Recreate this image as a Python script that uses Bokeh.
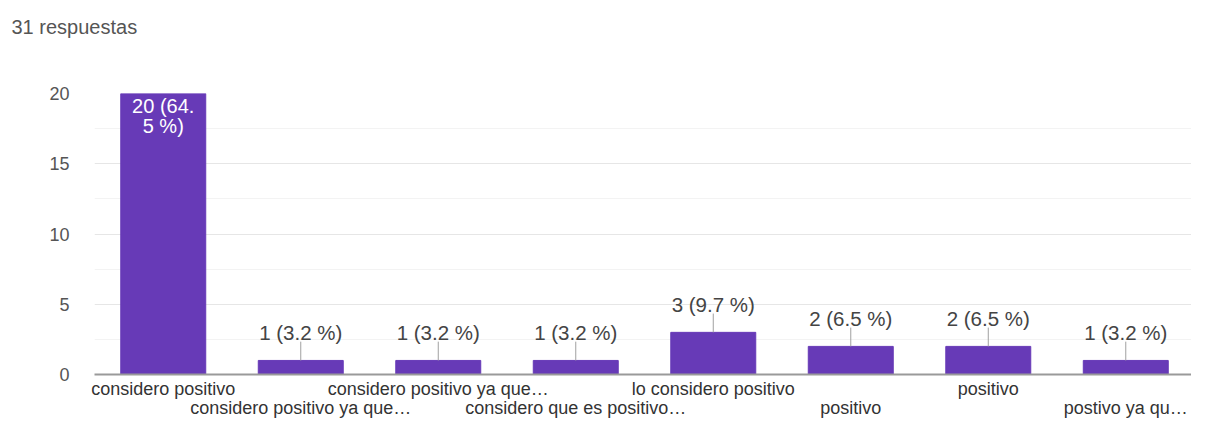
import numpy as np
from bokeh.plotting import figure
from bokeh.models import FixedTicker, ColumnDataSource, Title
from bokeh.core.properties import value
from bokeh.embed import file_html
from bokeh.resources import INLINE

# ---- data ----
categories = [
    "considero positivo",
    "considero positivo ya que…",
    "considero positivo ya que…",
    "considero que es positivo…",
    "lo considero positivo",
    "positivo",
    "positivo",
    "postivo ya qu…",
]
counts = [20, 1, 1, 1, 3, 2, 2, 1]
total_responses = 31
y_ticks = [0, 5, 10, 15, 20]
y_minor = [2.5, 7.5, 12.5, 17.5]
title_text = f"{total_responses} respuestas"

FONT = "Liberation Sans"
BAR = "#673ab7"

n = len(categories)
xs = np.arange(n)
cnt = np.array(counts, dtype=float)
pct = [f"{c} ({100.0 * c / total_responses:.1f} %)" for c in counts]

px_per_unit = 14.2
lead = 19.0 / px_per_unit

p = figure(width=1191, height=420,
           x_range=(-0.5, n - 0.522), y_range=(0, 20),
           output_backend="svg", toolbar_location=None,
           min_border_left=94, min_border_right=0,
           min_border_top=93, min_border_bottom=42)
p.outline_line_color = None
p.background_fill_color = "white"
p.border_fill_color = "white"

# title (trailing blank lines lift it towards the top of the page)
p.title = Title(text=title_text + "\n\n", align="left", offset=-83,
                vertical_align="bottom", standoff=10,
                text_font=FONT, text_font_size="20px", text_line_height=1.14,
                text_font_style="normal", text_color="#555555")

# y axis
p.yaxis.ticker = FixedTicker(ticks=y_ticks)
p.yaxis.axis_line_color = None
p.yaxis.major_tick_line_color = None
p.yaxis.minor_tick_line_color = None
p.yaxis.major_tick_out = 0
p.yaxis.major_tick_in = 0
p.yaxis.major_label_standoff = 25
p.yaxis.major_label_text_font = FONT
p.yaxis.major_label_text_font_size = "18px"
p.yaxis.major_label_text_color = "#555555"

# x axis: category names in two staggered rows
p.xaxis.ticker = FixedTicker(ticks=list(range(n)))
p.xaxis.major_label_overrides = {i: (c if i % 2 == 0 else "\n" + c)
                                 for i, c in enumerate(categories)}
p.xaxis.axis_line_color = "#9a9a9a"
p.xaxis.axis_line_width = 2
p.xaxis.major_tick_line_color = None
p.xaxis.minor_tick_line_color = None
p.xaxis.major_tick_out = 0
p.xaxis.major_tick_in = 0
p.xaxis.major_label_standoff = 4
p.xaxis.major_label_text_font = FONT
p.xaxis.major_label_text_font_size = "18px"
p.xaxis.major_label_text_line_height = 0.95
p.xaxis.major_label_text_color = "#333333"

# grid
p.xgrid.visible = False
p.ygrid.ticker = FixedTicker(ticks=y_ticks[1:], minor_ticks=y_minor)
p.ygrid.grid_line_color = "#e6e6e6"
p.ygrid.minor_grid_line_color = "#f3f3f3"

# bars
src = ColumnDataSource(dict(x=xs, top=cnt, cat=categories, pct=pct))
p.vbar(x="x", top="top", width=0.618, source=src,
       fill_color=BAR, line_color=BAR)

# leader lines + value labels for short bars
small = cnt < 10
sx = xs[small]
sc = cnt[small]
p.segment(x0=sx, y0=sc, x1=sx, y1=sc + lead, line_color="#a0a0a0", line_width=1)
p.text(x=sx, y=sc, text=[pct[i] for i in range(n) if small[i]],
       y_offset=-28, text_align="center", text_baseline="middle",
       text_font=value(FONT), text_font_size="20.5px", text_color="#444444")

# label inside the tall bar (wrapped)
big = ~small
big_txt = []
for i in range(n):
    if big[i]:
        s = pct[i]
        big_txt.append(s[:7] + "\n" + s[7:])
p.text(x=xs[big], y=cnt[big], text=big_txt, y_offset=1,
       text_align="center", text_baseline="top", text_line_height=0.95,
       text_font=value(FONT), text_font_size="20px", text_color="white")

open("out.html", "w").write(file_html(p, INLINE))
